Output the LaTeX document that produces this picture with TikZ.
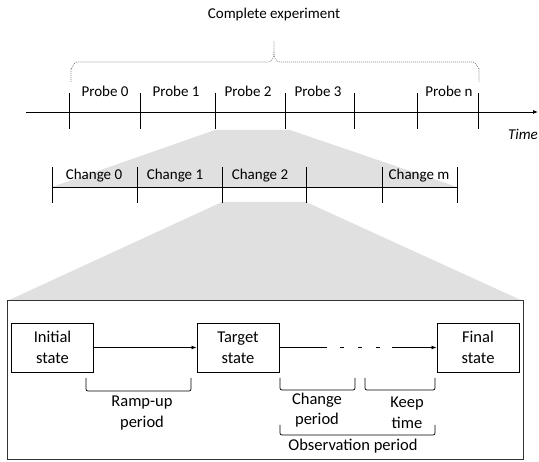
\documentclass[tikz,border=0pt]{standalone}
\usepackage{fontspec}
\setmainfont{Carlito}
\usetikzlibrary{arrows.meta}
\definecolor{zoomgray}{RGB}{224,224,224}

\begin{document}
\begin{tikzpicture}[x=1pt,y=-1pt,
  toplabel/.style={font=\fontsize{15}{18}\selectfont},
  lowlabel/.style={font=\fontsize{16.5}{20.5}\selectfont, align=center},
  statebox/.style={draw, line width=0.9pt, minimum width=82pt, minimum height=49pt, inner sep=0pt, align=center, font=\fontsize{16.5}{21}\selectfont},
  arrowline/.style={line width=0.8pt, -{Latex[length=5pt,width=4pt]}},
  period/.style={line width=0.7pt, rounded corners=2pt}]
\useasboundingbox (0,0) rectangle (539,462);
% zoom areas
\fill[zoomgray] (215,130) -- (290,130) -- (457,187) -- (52,187) -- cycle;
\fill[zoomgray] (222,202) -- (306,202) -- (523,301) -- (7,301) -- cycle;
% complete experiment
\node[toplabel] (exp) at (274,15) {Complete experiment};
\draw[gray, line width=0.6pt, dash pattern=on 1pt off 1pt]
  (71,82) -- (71,68) to[out=-90,in=180] (77,62) -- (268,62) to[out=0,in=-90] (274,52) -- (274,41)
  (274,52) to[out=-90,in=180] (280,62) -- (473,62) to[out=0,in=-90] (479,68) -- (479,82);
% time line
\coordinate (tstart) at (26,112);
\coordinate (tend) at (538,112);
\draw[arrowline] (tstart) -- (tend);
\node[toplabel, font=\fontsize{15}{18}\selectfont\itshape] (time) at (523,134) {Time};
\foreach \x in {69,140,215,285,354,417,478}
  \draw[line width=0.8pt] (\x,93) -- (\x,129);
\foreach \x/\n in {105/0,176/1,248/2,318/3,449/n}
  \node[toplabel] (probe\n) at (\x,91) {Probe \n};
% change line
\draw[line width=0.8pt] (52,187) -- (457,187);
\foreach \x in {52,137,222,306,382,457}
  \draw[line width=0.8pt] (\x,167) -- (\x,203);
\foreach \x/\n in {94/0,175/1,260/2,419/m}
  \node[toplabel] (change\n) at (\x,176) {Change \n};
% single change
\draw[line width=1pt, black!80] (7,301) rectangle (523,460);
\node[statebox] (init) at (52.5,347.5) {Initial\\state};
\node[statebox] (target) at (238,347.5) {Target\\state};
\node[statebox] (final) at (478,347.5) {Final\\state};
\draw[arrowline] (init) -- (target);
\coordinate (gapA) at (327,347.5);
\coordinate (gapB) at (392,347.5);
\draw[line width=0.8pt] (target) -- (gapA);
\draw[line width=0.8pt, dash pattern=on 4pt off 14pt] (340,347.5) -- (380,347.5);
\draw[arrowline] (gapB) -- (final);
\draw[period] (86,378) |- (191,391) -- (191,378);
\draw[period] (280,378) |- (355,390) -- (355,378);
\draw[period] (365,378) |- (435,390) -- (435,378);
\draw[period] (280,425) |- (435,435) -- (435,425);
\node[lowlabel] (ramp) at (142,413) {Ramp-up\\period};
\node[lowlabel] (chper) at (317,410) {Change\\period};
\node[lowlabel] (keep) at (407,413) {Keep\\time};
\node[lowlabel] (obs) at (353,446) {Observation period};
\end{tikzpicture}
\end{document}
